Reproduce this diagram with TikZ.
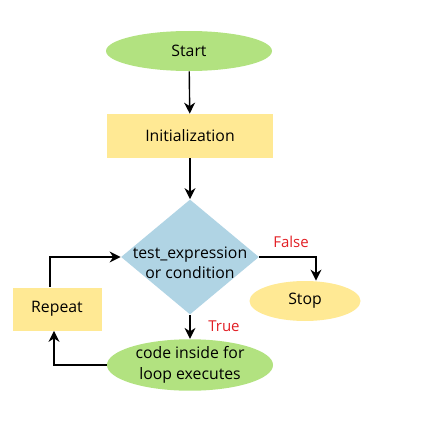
\documentclass[tikz,border=0pt]{standalone}
\usepackage{fontspec}
\setmainfont{Open Sans}
\usetikzlibrary{shapes.geometric,arrows.meta}

\definecolor{termgreen}{RGB}{178,226,128}
\definecolor{boxyellow}{RGB}{255,233,148}
\definecolor{decblue}{RGB}{176,212,228}
\definecolor{labelred}{RGB}{226,30,36}

\tikzset{
terminal/.style={ellipse, draw=none, fill=termgreen, minimum width=166, minimum height=40, inner sep=0pt, align=center},
process/.style={rectangle, draw=none, fill=boxyellow, minimum width=166, minimum height=44, inner sep=0pt},
decision/.style={diamond, draw=none, fill=decblue, minimum width=138, minimum height=115, inner sep=0pt},
flow/.style={line width=1.4pt, -{Stealth[length=11pt,width=11pt,inset=3.5pt]}},
branch/.style={font=\fontsize{15}{17}\selectfont, text=labelred, inner sep=0.75pt}
}
\tikzset{every picture/.style={line width=0.75pt}}

\begin{document}
\begin{tikzpicture}[x=1pt,y=1pt,yscale=-1,xscale=1,
  every node/.style={font=\fontsize{15.8}{20.5}\selectfont}]
\useasboundingbox (0,0) rectangle (434,436);

% Nodes
\node[terminal] (start) at (189,51) {Start};
\node[process] (init) at (190,136) {Initialization};
\node[decision, label={[align=center,yshift=-6pt]center:test\_expression\\or condition}] (test) at (190,257) {};
\node[terminal, fill=boxyellow, minimum width=111, minimum height=40] (stop) at (305,301) {Stop};
\node[terminal, minimum height=44] (body) at (190,365) {code inside for\\loop executes};
\node[process, minimum width=89, minimum height=43] (repeat) at (57,309) {Repeat};

% Connectors
\draw[flow] (start) -- (init);
\draw[flow] (init) -- (test);
\draw[flow] (test.east) -| ([xshift=11pt]stop.north);
\draw[flow] (test.south) -- (body.north);
\draw[flow] (body.west) -| ([xshift=-3pt]repeat.south);
\draw[flow] ([xshift=-7pt]repeat.north) |- (test.west);

% Branch labels
\draw (291,242) node[branch] {False};
\draw (224,326) node[branch] {True};

\end{tikzpicture}
\end{document}
